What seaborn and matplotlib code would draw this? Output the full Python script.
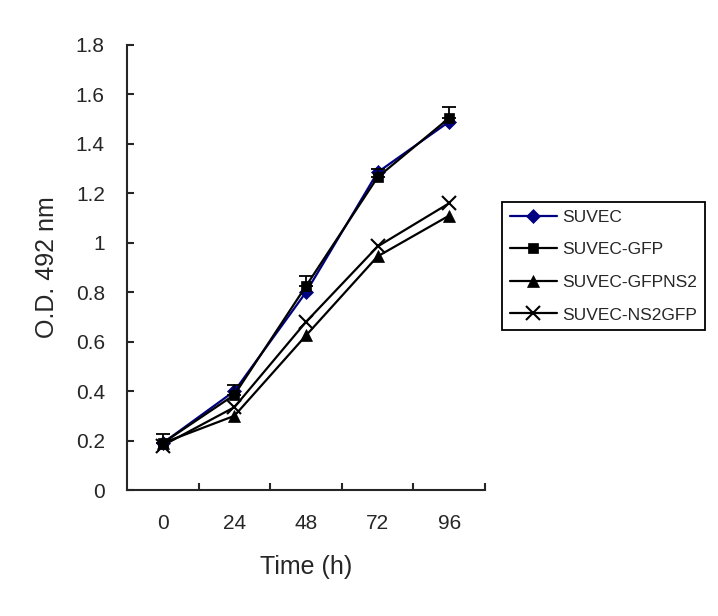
import numpy as np
import pandas as pd
import matplotlib
matplotlib.use("Agg")
import matplotlib.pyplot as plt
import seaborn as sns

times = ["0", "24", "48", "72", "96"]
series = ["SUVEC", "SUVEC-GFP", "SUVEC-GFPNS2", "SUVEC-NS2GFP"]
suvec = [0.19, 0.40, 0.80, 1.285, 1.49]
suvec_gfp = [0.19, 0.385, 0.825, 1.265, 1.505]
suvec_gfpns2 = [0.19, 0.30, 0.625, 0.945, 1.11]
suvec_ns2gfp = [0.18, 0.335, 0.68, 0.985, 1.16]
gfp_err = [0.035, 0.04, 0.04, 0.035, 0.045]

colors = {"SUVEC": "#000080", "SUVEC-GFP": "black", "SUVEC-GFPNS2": "black", "SUVEC-NS2GFP": "black"}
markers = {"SUVEC": "D", "SUVEC-GFP": "s", "SUVEC-GFPNS2": "^", "SUVEC-NS2GFP": "x"}
msizes = {"SUVEC": 7, "SUVEC-GFP": 7, "SUVEC-GFPNS2": 8, "SUVEC-NS2GFP": 10}

pos = np.arange(len(times))
df = pd.DataFrame({
    "pos": np.tile(pos, 4),
    "od": suvec + suvec_gfp + suvec_gfpns2 + suvec_ns2gfp,
    "series": np.repeat(series, len(times)),
})

sns.set_style("ticks")
plt.rcParams["font.family"] = ["Liberation Sans", "DejaVu Sans"]

fig = plt.figure(figsize=(7.18, 6.16), dpi=100)
ax = fig.add_axes([127 / 718, 1 - 490 / 616, (485 - 127) / 718, (490 - 45) / 616])

handles = []
for s in series:
    sub = df[df["series"] == s]
    sns.lineplot(data=sub, x="pos", y="od", ax=ax, color=colors[s], marker=markers[s],
                 markersize=msizes[s], markeredgewidth=1.5 if s == "SUVEC-NS2GFP" else 0.5,
                 markeredgecolor=colors[s], linewidth=1.6, legend=False)
    handles.append(ax.lines[-1])

ax.errorbar(pos, suvec_gfp, yerr=[np.zeros(len(gfp_err)), gfp_err], fmt="none",
            ecolor="black", elinewidth=1.3, capsize=5, capthick=1.3)

ax.set_xlim(-0.5, len(times) - 0.5)
ax.set_ylim(0, 1.8)
ax.set_yticks(np.arange(0, 1.81, 0.2))
ax.set_yticklabels(["0", "0.2", "0.4", "0.6", "0.8", "1", "1.2", "1.4", "1.6", "1.8"])
ax.set_xticks(pos)
ax.set_xticklabels(times)
ax.set_xticks(np.arange(0.5, len(times), 1), minor=True)
ax.tick_params(axis="x", which="major", length=0, pad=17, labelsize=15)
ax.tick_params(axis="x", which="minor", direction="in", length=5, width=1.5)
ax.tick_params(axis="y", direction="in", length=5, width=1.5, pad=16, labelsize=15)
for sp in ["top", "right"]:
    ax.spines[sp].set_visible(False)
for sp in ["left", "bottom"]:
    ax.spines[sp].set_linewidth(1.5)

ax.set_xlabel("Time (h)", fontsize=18, labelpad=16)
ax.set_ylabel("O.D. 492 nm", fontsize=18, labelpad=12)

leg = ax.legend(handles, series, loc="upper left", bbox_to_anchor=(502 / 718, 1 - 202 / 616),
                bbox_transform=fig.transFigure, frameon=True, fancybox=False, edgecolor="black",
                framealpha=1, fontsize=12.5, handlelength=2.7, handletextpad=0.3,
                labelspacing=1.0, borderpad=0.45, borderaxespad=0)
leg.get_frame().set_linewidth(1.3)

fig.savefig("out.png", dpi=100)
